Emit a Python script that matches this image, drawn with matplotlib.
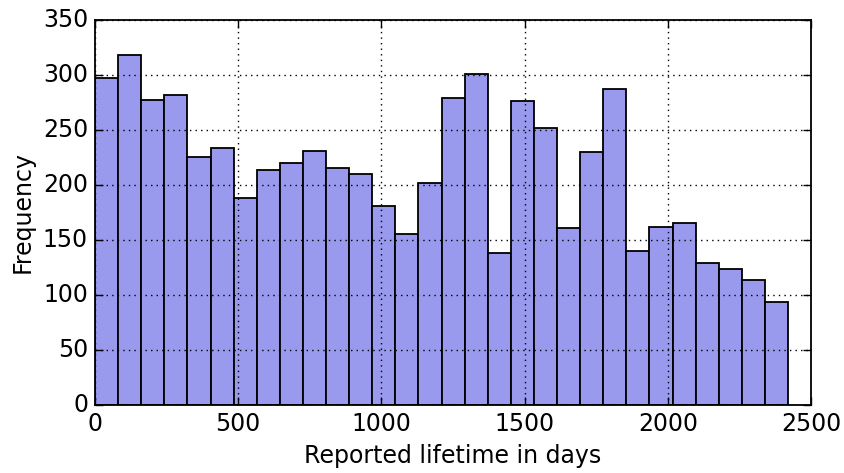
import numpy as np
import matplotlib
matplotlib.use("Agg")
import matplotlib.pyplot as plt

# Histogram of reported lifetimes: 30 equal bins from 0 to 2420 days
bin_start = 0
bin_stop = 2420
n_bins = 30
counts = [297, 318, 277, 282, 225, 234, 188, 214, 220, 231,
          215, 210, 181, 155, 202, 279, 301, 138, 276, 252,
          161, 230, 287, 140, 162, 165, 129, 124, 114, 94]

x_ticks = [0, 500, 1000, 1500, 2000, 2500]
y_ticks = [0, 50, 100, 150, 200, 250, 300, 350]

plt.style.use("classic")
plt.rcParams["font.family"] = ["DejaVu Sans"]

fig = plt.figure(figsize=(8.45, 4.73), dpi=100, facecolor="white")
ax = fig.add_axes([0.1124, 0.1438, 0.8474, 0.8139])

edges = np.linspace(bin_start, bin_stop, n_bins + 1)
centers = (edges[:-1] + edges[1:]) / 2
ax.hist(centers, bins=edges, weights=counts, facecolor="#9999ee",
        edgecolor="black", linewidth=1.3, zorder=2)

ax.set_xlim(0, 2500)
ax.set_ylim(0, 350)
ax.set_xticks(x_ticks)
ax.set_yticks(y_ticks)
ax.tick_params(labelsize=17, direction="in", length=6, width=1, top=True, right=True, pad=5)
for s in ax.spines.values():
    s.set_linewidth(1.3)
ax.grid(True, linestyle=":", color="black", linewidth=1.0, zorder=3)
ax.set_axisbelow(False)

ax.set_xlabel("Reported lifetime in days", fontsize=17, labelpad=6)
ax.set_ylabel("Frequency", fontsize=17, labelpad=6)

fig.savefig("out.png", dpi=100, facecolor="white")
